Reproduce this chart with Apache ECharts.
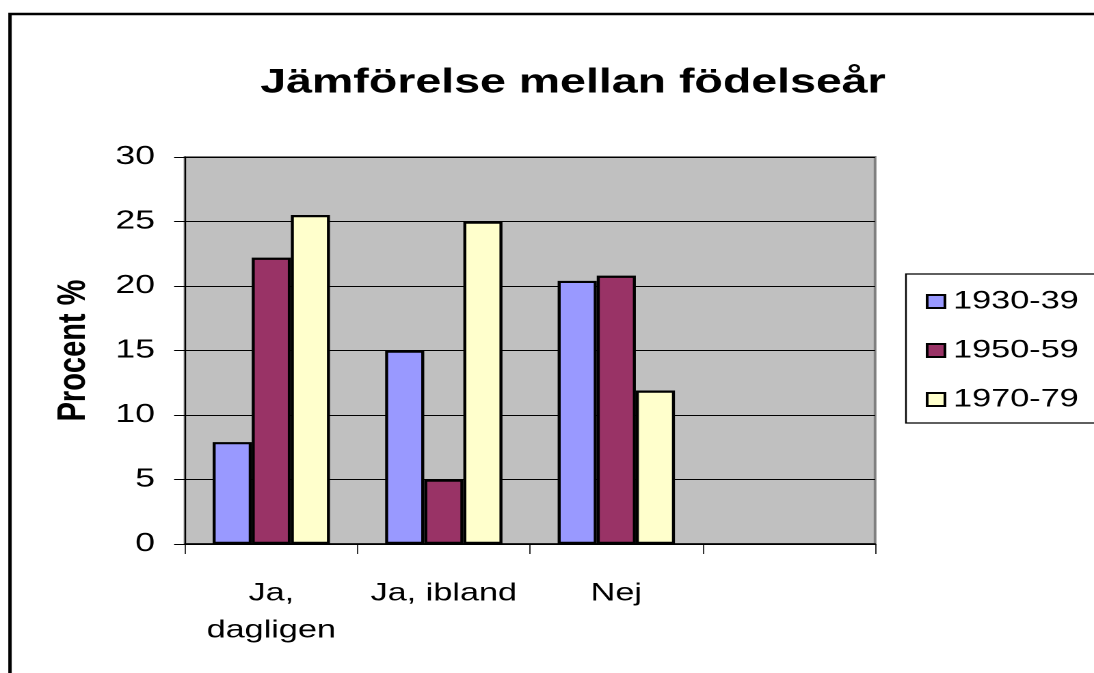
<!DOCTYPE html>
<html>
<head>
<meta charset="utf-8">
<script src="https://cdn.jsdelivr.net/npm/echarts@6/dist/echarts.min.js"></script>
<style>
html,body{margin:0;padding:0;background:#fff;overflow:hidden;}
#wrap{width:1094px;height:673px;overflow:hidden;}
#c{width:800px;height:673px;transform:scaleX(1.3675);transform-origin:0 0;}
</style>
</head>
<body>
<div id="wrap"><div id="c"></div></div>
<script>
const categories = ['Ja,\ndagligen', 'Ja, ibland', 'Nej', ''];
const seriesNames = ['1930-39', '1950-59', '1970-79'];
const s1930 = [7.9, 15.0, 20.4, null];
const s1950 = [22.2, 5.0, 20.8, null];
const s1970 = [25.5, 25.0, 11.9, null];
const yTicks = [0, 5, 10, 15, 20, 25, 30];
const colors = ['#9999FF', '#993366', '#FFFFCC'];

const font = 'Liberation Sans, Arial, sans-serif';
const chart = echarts.init(document.getElementById('c'), null, {renderer: 'canvas', devicePixelRatio: 2});
const values = [s1930, s1950, s1970];

chart.setOption({
  animation: false,
  backgroundColor: '#fff',
  title: {
    text: 'Jämförelse mellan födelseår',
    left: 414, top: 61, textAlign: 'center',
    textStyle: {fontFamily: font, fontSize: 34, fontWeight: 'bold', color: '#000'}
  },
  grid: {
    left: 135.3, right: 160.1, top: 157, bottom: 129,
    show: true, backgroundColor: '#C0C0C0', borderColor: '#808080', borderWidth: 2
  },
  legend: {
    orient: 'vertical', left: 672, top: 284,
    itemWidth: 13, itemHeight: 13, itemGap: 24,
    icon: 'rect',
    data: seriesNames,
    textStyle: {fontFamily: font, fontSize: 25, color: '#000', padding: [0, 0, 0, 1]}
  },
  graphic: [
    {type: 'rect', shape: {x: 7.3, y: 14, width: 900, height: 800}, style: {fill: 'none', stroke: '#000', lineWidth: 2.5}, z: 100},
    {type: 'rect', shape: {x: 662.5, y: 274, width: 300, height: 149}, style: {fill: 'none', stroke: '#000', lineWidth: 1.2}, z: 100}
  ],
  xAxis: {
    type: 'category', data: categories, boundaryGap: true,
    axisLine: {lineStyle: {color: '#000', width: 1.5}},
    axisTick: {show: true, length: 10, inside: false, lineStyle: {color: '#000', width: 0.8}},
    axisLabel: {fontFamily: font, fontSize: 25, color: '#000', margin: 31, lineHeight: 37, interval: 0}
  },
  yAxis: {
    type: 'value', min: 0, max: 30, interval: 5,
    name: 'Procent %', nameLocation: 'middle', nameGap: 67, nameRotate: 90,
    nameTextStyle: {fontFamily: font, fontSize: 29, fontWeight: 'bold', color: '#000'},
    axisLine: {show: true, lineStyle: {color: '#000', width: 1}},
    axisTick: {show: true, length: 8, lineStyle: {color: '#000'}},
    axisLabel: {fontFamily: font, fontSize: 26, color: '#000', margin: 22,
      formatter: v => yTicks.includes(v) ? String(v) : ''},
    splitLine: {show: true, lineStyle: {color: '#000', width: 1}}
  },
  series: seriesNames.map((n, i) => ({
    name: n, type: 'bar', data: values[i],
    barGap: '0%', barCategoryGap: '32%',
    itemStyle: {color: colors[i], borderColor: '#000', borderWidth: 2.2}
  }))
});
</script>
</body>
</html>
